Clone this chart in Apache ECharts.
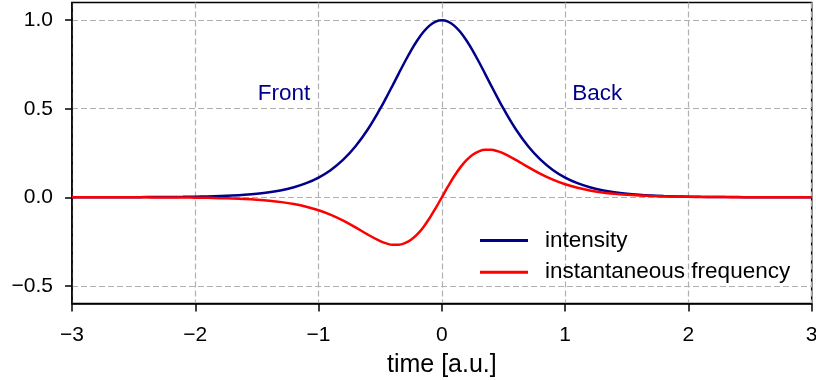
<!DOCTYPE html>
<html>
<head>
<meta charset="utf-8">
<script src="https://cdn.jsdelivr.net/npm/echarts@6/dist/echarts.min.js"></script>
<style>
  html, body { margin: 0; padding: 0; background: #fff; }
  #chart { width: 816px; height: 380px; }
</style>
</head>
<body>
<div id="chart"></div>
<script>
// Pulse profile: intensity and instantaneous frequency versus time
const time = [
  -3.0, -2.9, -2.8, -2.7, -2.6, -2.5, -2.4, -2.3, -2.2, -2.1,
  -2.0, -1.9, -1.8, -1.7, -1.6, -1.5, -1.4, -1.3, -1.2, -1.1,
  -1.0, -0.9, -0.8, -0.7, -0.6, -0.5,
  -0.45, -0.4, -0.35, -0.3, -0.25, -0.2, -0.15, -0.1, -0.05, 0,
  0.05, 0.1, 0.15, 0.2, 0.25, 0.3, 0.35, 0.4, 0.45,
  0.5, 0.6, 0.7, 0.8, 0.9, 1.0, 1.1, 1.2, 1.3, 1.4,
  1.5, 1.6, 1.7, 1.8, 1.9, 2.0, 2.1, 2.2, 2.3, 2.4,
  2.5, 2.6, 2.7, 2.8, 2.9, 3.0
];

const intensity = [
  0.0001, 0.0002, 0.0002, 0.0003, 0.0004, 0.0006, 0.0009, 0.0012, 0.0017, 0.0024,
  0.0035, 0.0049, 0.0070, 0.0099, 0.0141, 0.0200, 0.0283, 0.0401, 0.0565, 0.0794,
  0.1111, 0.1543, 0.2123, 0.2882, 0.3842, 0.5000,
  0.5641, 0.6309, 0.6986, 0.7653, 0.8284, 0.8853, 0.9332, 0.9696, 0.9923, 1.0000,
  0.9923, 0.9696, 0.9332, 0.8853, 0.8284, 0.7653, 0.6986, 0.6309, 0.5641,
  0.5000, 0.3842, 0.2882, 0.2123, 0.1543, 0.1111, 0.0794, 0.0565, 0.0401, 0.0283,
  0.0200, 0.0141, 0.0099, 0.0070, 0.0049, 0.0035, 0.0024, 0.0017, 0.0012, 0.0009,
  0.0006, 0.0004, 0.0003, 0.0002, 0.0002, 0.0001
];

const frequency = [
  -0.0001, -0.0001, -0.0001, -0.0002, -0.0003, -0.0004, -0.0006, -0.0008, -0.0012, -0.0017,
  -0.0024, -0.0034, -0.0049, -0.0069, -0.0098, -0.0139, -0.0195, -0.0275, -0.0384, -0.0533,
  -0.0733, -0.0993, -0.1319, -0.1702, -0.2111, -0.2475,
  -0.2607, -0.2683, -0.2685, -0.2595, -0.2402, -0.2098, -0.1688, -0.1184, -0.0611, 0,
  0.0611, 0.1184, 0.1688, 0.2098, 0.2402, 0.2595, 0.2685, 0.2683, 0.2607,
  0.2475, 0.2111, 0.1702, 0.1319, 0.0993, 0.0733, 0.0533, 0.0384, 0.0275, 0.0195,
  0.0139, 0.0098, 0.0069, 0.0049, 0.0034, 0.0024, 0.0017, 0.0012, 0.0008, 0.0006,
  0.0004, 0.0003, 0.0002, 0.0001, 0.0001, 0.0001
];

const seriesNames = ['intensity', 'instantaneous frequency'];
const yTicks = [-0.5, 0, 0.5, 1.0];
const annotations = [
  { text: 'Front', t: -1.28, y: 0.585 },
  { text: 'Back', t: 1.26, y: 0.585 }
];

const FONT = '"Liberation Sans", Arial, Helvetica, sans-serif';
const minus = s => String(s).replace('-', '\u2212');
const gridDash = { color: '#b0b0b0', width: 1.2, type: [6, 3] };

const pairs = arr => time.map((t, i) => [t, arr[i]]);

const chart = echarts.init(document.getElementById('chart'), null, { renderer: 'canvas' });
chart.setOption({
  animation: false,
  textStyle: { fontFamily: FONT },
  grid: {
    left: 72, right: 4.3, top: 2.5, bottom: 76.5,
    outerBoundsMode: 'none',
    show: true, borderColor: '#000', borderWidth: 1.5, backgroundColor: 'transparent'
  },
  legend: {
    data: seriesNames,
    orient: 'vertical',
    left: 480, top: 229,
    padding: 0,
    icon: 'rect',
    itemWidth: 48, itemHeight: 3,
    itemGap: 8.7,
    textStyle: { fontFamily: FONT, fontSize: 22.5, color: '#000', lineHeight: 22, padding: [0, 0, 0, 12] }
  },
  xAxis: {
    type: 'value', min: -3, max: 3, interval: 1,
    name: 'time [a.u.]', nameLocation: 'middle', nameGap: 49,
    nameTextStyle: { fontFamily: FONT, fontSize: 25, color: '#000' },
    axisLine: { onZero: false, lineStyle: { color: '#000', width: 1.5 } },
    axisTick: { show: true, length: 8, lineStyle: { color: '#000', width: 1.5 } },
    axisLabel: { fontFamily: FONT, fontSize: 21, color: '#000', margin: 21, formatter: v => minus(v) },
    splitLine: { show: true, lineStyle: gridDash }
  },
  yAxis: {
    type: 'value', min: -0.6, max: 1.1,
    axisLine: { show: true, onZero: false, lineStyle: { color: '#000', width: 1.5 } },
    axisTick: { show: true, length: 7, customValues: yTicks, lineStyle: { color: '#000', width: 1.5 } },
    axisLabel: { fontFamily: FONT, fontSize: 21, color: '#000', margin: 19, customValues: yTicks,
      formatter: v => minus(Number(v).toFixed(1)) },
    splitLine: { show: true, lineStyle: gridDash }
  },
  series: [
    {
      name: seriesNames[0], type: 'line', data: pairs(intensity),
      showSymbol: false, smooth: 0.4,
      lineStyle: { color: '#00008B', width: 2.5 }, itemStyle: { color: '#00008B' },
      markPoint: {
        symbol: 'circle', symbolSize: 0,
        data: annotations.map(a => ({ name: a.text, coord: [a.t, a.y] })),
        label: { show: true, formatter: '{b}', color: '#00008B', fontFamily: FONT, fontSize: 22.5 }
      }
    },
    {
      name: seriesNames[1], type: 'line', data: pairs(frequency),
      showSymbol: false, smooth: 0.4,
      lineStyle: { color: '#FF0000', width: 2.5 }, itemStyle: { color: '#FF0000' }
    }
  ]
});
</script>
</body>
</html>
